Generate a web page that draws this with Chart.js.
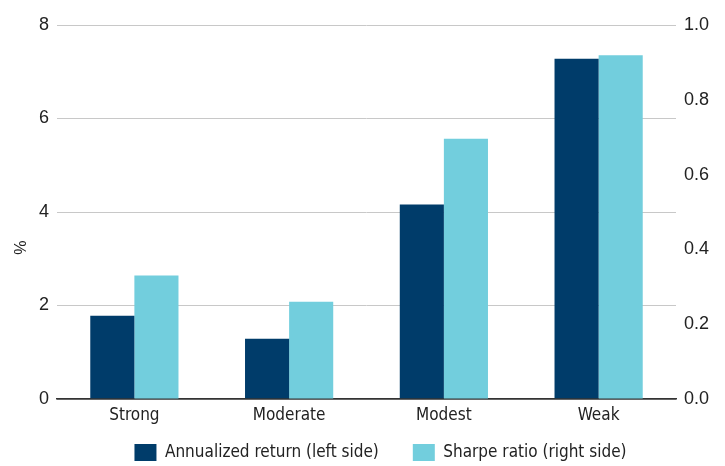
<!DOCTYPE html>
<html>
<head>
<meta charset="utf-8">
<script src="https://cdn.jsdelivr.net/npm/chart.js@4"></script>
<style>
  html, body { margin: 0; padding: 0; background: #fff; }
  #wrap { width: 725px; height: 466px; }
</style>
</head>
<body>
<div id="wrap"><canvas id="myChart"></canvas></div>
<script>
const categories = ['Strong', 'Moderate', 'Modest', 'Weak'];
const annualizedReturn = [1.78, 1.29, 4.16, 7.28];
const sharpeRatio = [0.33, 0.26, 0.696, 0.919];
const leftTicks = [0, 2, 4, 6, 8];
const rightTicks = [0, 0.2, 0.4, 0.6, 0.8, 1.0];

const condensed = '"Liberation Sans Narrow", "DejaVu Sans Condensed", "Liberation Sans", sans-serif';

// legend: wide gap between items, fixed height, placed like the original
const legendPlace = {
    id: 'legendPlace',
    beforeInit: function (chart) {
        const fit = chart.legend.fit;
        chart.legend.fit = function () {
            fit.call(this);
            this.height = 41;
        };
    },
    afterLayout: function (chart) {
        chart.legend.top = 444 - 34;
        chart.legend.left += 18;
        chart.legend.right += 18;
    }
};

let myChart;
function chart() {
    var ctx = document.getElementById('myChart');
    if (myChart) {
        myChart.destroy();
    }
    myChart = new Chart(ctx, {
        type: 'bar',
        data: {
            labels: categories,
            datasets: [{
                label: 'Annualized return (left side)',
                data: annualizedReturn,
                backgroundColor: '#003c6a',
                yAxisID: 'y'
            }, {
                label: 'Sharpe ratio (right side)',
                data: sharpeRatio,
                backgroundColor: '#72cedd',
                yAxisID: 'y1'
            }]
        },
        plugins: [legendPlace],
        options: {
            responsive: true,
            maintainAspectRatio: false,
            animation: false,
            categoryPercentage: 0.57,
            barPercentage: 1.0,
            layout: { padding: { top: 25, left: 0, right: 0, bottom: 0 } },
            plugins: {
                tooltip: { enabled: false },
                legend: {
                    position: 'bottom',
                    labels: {
                        boxWidth: 22,
                        boxHeight: 17,
                        padding: 34,
                        color: '#222',
                        font: { family: condensed, size: 17 }
                    }
                }
            },
            scales: {
                x: {
                    grid: { display: false },
                    border: { display: true, color: '#333', width: 1.5 },
                    afterFit: function (axis) { axis.height = 26; },
                    ticks: {
                        color: '#222',
                        padding: -2,
                        font: { family: condensed, size: 17 }
                    }
                },
                y: {
                    position: 'left',
                    min: 0,
                    max: 8,
                    afterBuildTicks: function (axis) {
                        axis.ticks = leftTicks.map(v => ({ value: v }));
                    },
                    afterFit: function (axis) { axis.width = 57; },
                    grid: {
                        color: c => c.tick && c.tick.value === 0 ? '#333' : '#c8c8c8',
                        lineWidth: c => c.tick && c.tick.value === 0 ? 1.5 : 1,
                        drawTicks: false
                    },
                    border: { display: false },
                    title: {
                        display: true,
                        text: '%                ',
                        color: '#222',
                        padding: { top: 12, bottom: 0 },
                        font: { family: '"Liberation Sans", sans-serif', size: 16 }
                    },
                    ticks: {
                        color: '#222',
                        padding: 8,
                        font: { family: '"Liberation Sans", sans-serif', size: 18 }
                    }
                },
                y1: {
                    position: 'right',
                    min: 0,
                    max: 1,
                    afterBuildTicks: function (axis) {
                        axis.ticks = rightTicks.map(v => ({ value: v }));
                    },
                    afterFit: function (axis) { axis.width = 49; },
                    grid: { drawOnChartArea: false, drawTicks: false },
                    border: { display: false },
                    ticks: {
                        color: '#222',
                        padding: 8,
                        font: { family: '"Liberation Sans", sans-serif', size: 18 },
                        callback: v => v.toFixed(1)
                    }
                }
            }
        }
    });
}
chart();
</script>
</body>
</html>
